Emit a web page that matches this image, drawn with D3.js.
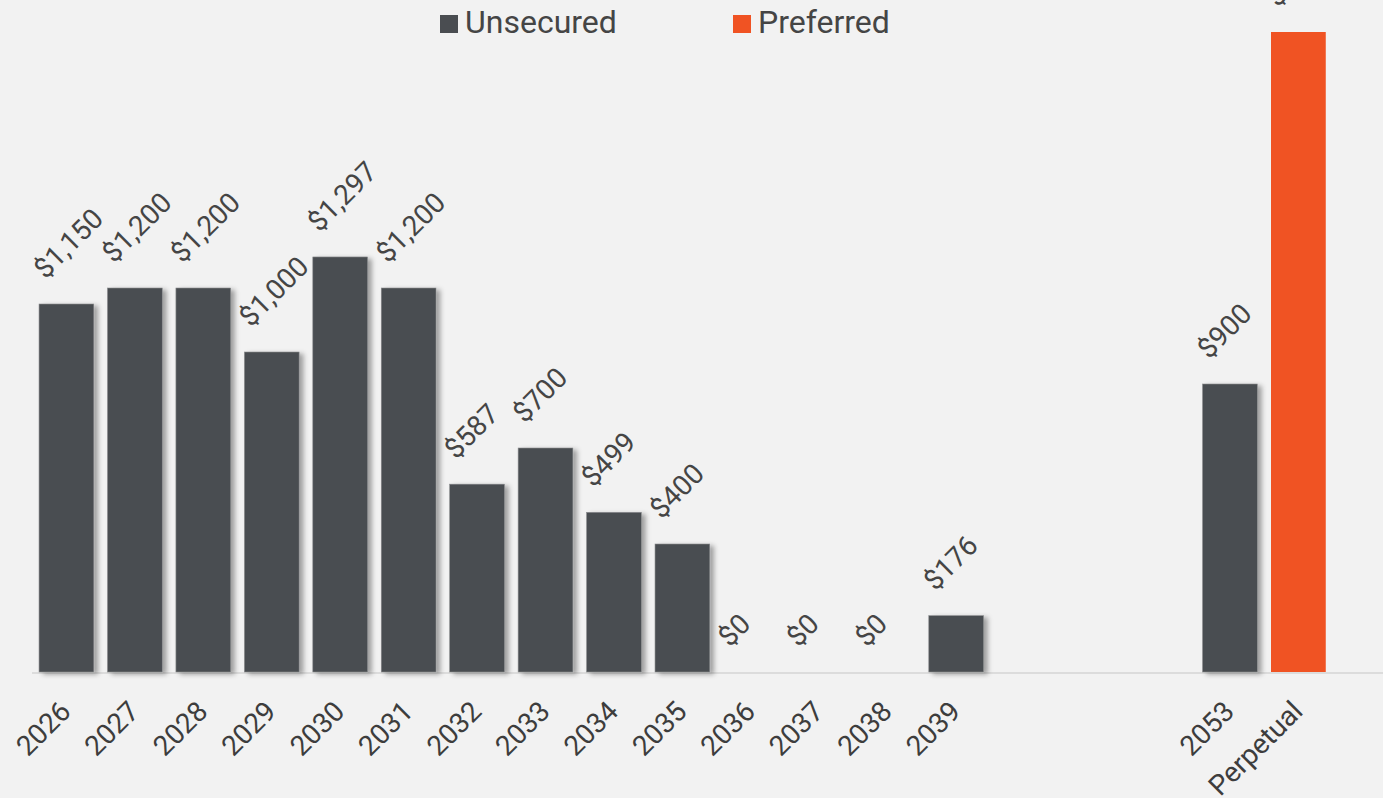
<!DOCTYPE html>
<html>
<head>
<meta charset="utf-8">
<script src="https://cdn.jsdelivr.net/npm/d3@7"></script>
<style>
  html, body { margin: 0; padding: 0; background: #f2f2f2; }
  svg { display: block; font-family: Roboto, "Noto Sans", sans-serif; }
</style>
</head>
<body>
<svg id="chart" width="1383" height="798"></svg>
<script>
// categories (gap slots keep the empty space between 2039 and 2053)
const categories = ["2026", "2027", "2028", "2029", "2030", "2031", "2032", "2033", "2034", "2035",
    "2036", "2037", "2038", "2039", "gap1", "gap2", "gap3", "2053", "Perpetual"];
const unsecured = [1150, 1200, 1200, 1000, 1297, 1200, 587, 700, 499, 400,
    0, 0, 0, 176, null, null, null, 900, null];
const preferred = [null, null, null, null, null, null, null, null, null, null,
    null, null, null, null, null, null, null, null, 2000];
const seriesNames = ["Unsecured", "Preferred"];
const colors = ["#4a4d51", "#f05323"];

const width = 1383, height = 798;
const svg = d3.select("#chart");

const baseY = 672;
const x = d3.scaleBand()
    .domain(categories)
    .range([32.2, 1332.6])
    .paddingInner(0.2)
    .paddingOuter(0.1);
const y = d3.scaleLinear().domain([0, 2000]).range([baseY, 32]);

const fmt = d3.format("$,");

// drop shadow for the grey bars
const defs = svg.append("defs");
const f = defs.append("filter").attr("id", "shadow")
    .attr("x", "-20%").attr("y", "-10%").attr("width", "150%").attr("height", "130%");
f.append("feDropShadow")
    .attr("dx", 4).attr("dy", 2).attr("stdDeviation", 2.5)
    .attr("flood-color", "#000").attr("flood-opacity", 0.35);

// baseline
svg.append("line")
    .attr("x1", 32).attr("x2", width)
    .attr("y1", baseY + 1).attr("y2", baseY + 1)
    .attr("stroke", "#dcdcdc").attr("stroke-width", 2);

const rows = categories.map((c, i) => ({ cat: c, u: unsecured[i], p: preferred[i] }));

// unsecured bars
svg.append("g")
    .selectAll("rect")
    .data(rows.filter(d => d.u != null && d.u > 0))
    .enter().append("rect")
    .attr("x", d => x(d.cat))
    .attr("y", d => y(d.u))
    .attr("width", x.bandwidth())
    .attr("height", d => baseY - y(d.u))
    .attr("fill", colors[0])
    .attr("stroke", "#8a8c8e").attr("stroke-width", 0.6)
    .attr("filter", "url(#shadow)");

// preferred bars
svg.append("g")
    .selectAll("rect")
    .data(rows.filter(d => d.p != null))
    .enter().append("rect")
    .attr("x", d => x(d.cat))
    .attr("y", d => y(d.p))
    .attr("width", x.bandwidth())
    .attr("height", d => baseY - y(d.p))
    .attr("fill", colors[1]);

// value labels, rotated
const labelRows = [];
rows.forEach(d => {
    if (d.u != null) labelRows.push({ cat: d.cat, v: d.u });
    if (d.p != null) labelRows.push({ cat: d.cat, v: d.p });
});
svg.append("g")
    .selectAll("text")
    .data(labelRows)
    .enter().append("text")
    .attr("transform", d => {
        const cx = x(d.cat) + x.bandwidth() / 2 - 21;
        const cy = y(d.v) - 24;
        return `translate(${cx},${cy}) rotate(-45)`;
    })
    .style("font-size", "28px")
    .style("fill", "#454545")
    .text(d => fmt(d.v));

// x axis labels
const xAxis = d3.axisBottom(x)
    .tickSize(0)
    .tickFormat(d => d.startsWith("gap") ? "" : d);
const ax = svg.append("g")
    .attr("transform", `translate(0,${baseY})`)
    .call(xAxis);
ax.select(".domain").remove();
ax.selectAll("text")
    .attr("x", 0).attr("y", 0).attr("dy", 0)
    .attr("text-anchor", "end")
    .attr("transform", "translate(6,41) rotate(-45)")
    .style("font-size", "28px")
    .style("font-family", "Roboto, sans-serif")
    .style("fill", "#3d3d3d");

// legend
const legend = svg.append("g");
const legendX = [440, 733];
seriesNames.forEach((name, i) => {
    legend.append("rect")
        .attr("x", legendX[i]).attr("y", 15)
        .attr("width", 18).attr("height", 18)
        .attr("fill", colors[i]);
    legend.append("text")
        .attr("x", legendX[i] + 25).attr("y", 33)
        .style("font-size", "32px")
        .style("fill", "#454545")
        .text(name);
});
</script>
</body>
</html>
